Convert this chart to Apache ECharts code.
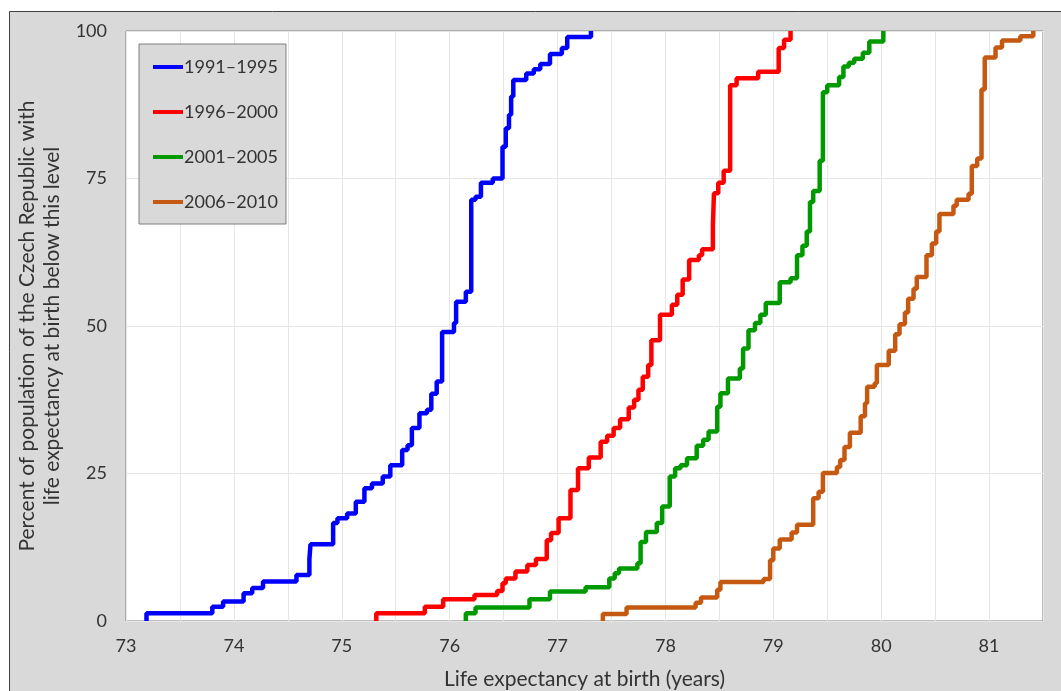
<!DOCTYPE html>
<html><head><meta charset="utf-8">
<script src="https://cdn.jsdelivr.net/npm/echarts@6/dist/echarts.min.js"></script>
<style>html,body{margin:0;padding:0;background:#fff}#c{width:1061px;height:691px}</style>
</head><body><div id="c"></div>
<script>
const seriesNames = ['1991\u20131995', '1996\u20132000', '2001\u20132005', '2006\u20132010'];
const xTicks = ['73','74','75','76','77','78','79','80','81'];
const yTicks = ['0','25','50','75','100'];

const s1991 = [[73.19,0],[73.19,1.3],[73.80,2.4],[73.90,3.3],[74.09,4.7],[74.17,5.6],[74.27,6.7],[74.58,7.8],[74.70,10.5],[74.71,13.0],[74.92,16.6],[74.96,17.4],[75.05,18.2],[75.13,20.2],[75.21,22.5],[75.28,23.3],[75.38,24.5],[75.45,26.4],[75.56,29.0],[75.61,29.8],[75.65,32.7],[75.72,35.2],[75.79,35.8],[75.83,38.5],[75.88,40.6],[75.93,49.0],[76.04,50.5],[76.06,54.1],[76.15,55.8],[76.20,71.4],[76.24,71.9],[76.29,74.3],[76.40,75.0],[76.49,80.4],[76.52,83.5],[76.55,85.8],[76.57,88.9],[76.59,91.7],[76.71,92.8],[76.78,93.5],[76.84,94.4],[76.93,96.1],[77.04,97.1],[77.09,99.0],[77.31,100]];
const s1996 = [[75.32,0],[75.32,1.3],[75.77,2.4],[75.94,3.7],[76.23,4.4],[76.44,5.1],[76.49,6.4],[76.52,7.2],[76.61,8.4],[76.72,9.5],[76.80,10.5],[76.90,13.7],[76.94,14.9],[77.01,17.4],[77.12,22.2],[77.19,25.9],[77.29,27.7],[77.40,30.4],[77.46,31.4],[77.52,32.7],[77.58,34.2],[77.66,36.2],[77.71,37.5],[77.75,39.2],[77.79,41.4],[77.84,43.4],[77.87,47.6],[77.95,51.9],[78.06,53.6],[78.11,55.3],[78.16,57.9],[78.22,61.2],[78.31,62.0],[78.34,63.0],[78.44,67.0],[78.45,72.5],[78.49,74.3],[78.54,76.3],[78.60,90.8],[78.66,92.0],[78.86,93.1],[79.05,97.1],[79.10,98.5],[79.16,100]];
const s2001 = [[76.15,0],[76.15,1.3],[76.24,2.3],[76.74,3.7],[76.93,5.0],[77.26,5.7],[77.48,7.2],[77.53,8.1],[77.57,8.9],[77.74,9.8],[77.77,13.4],[77.82,15.1],[77.92,16.6],[77.97,19.4],[78.04,24.5],[78.09,25.9],[78.14,26.4],[78.20,27.6],[78.29,29.7],[78.35,30.7],[78.40,32.1],[78.48,36.3],[78.51,38.6],[78.58,41.1],[78.69,42.8],[78.72,46.2],[78.77,49.3],[78.83,50.5],[78.88,51.9],[78.93,53.9],[79.06,57.4],[79.16,58.1],[79.22,62.0],[79.27,63.6],[79.31,66.0],[79.34,71.0],[79.37,72.9],[79.43,78.0],[79.46,89.6],[79.50,90.8],[79.61,92.2],[79.65,94.0],[79.70,94.6],[79.75,95.3],[79.83,96.3],[79.89,98.2],[80.02,100]];
const s2006 = [[77.42,0],[77.42,1.2],[77.64,2.3],[78.28,3.1],[78.33,4.0],[78.48,5.3],[78.51,6.6],[78.91,7.1],[78.97,10.3],[79.00,12.3],[79.06,13.8],[79.17,15.0],[79.22,16.3],[79.37,20.8],[79.42,21.9],[79.46,25.1],[79.59,26.1],[79.62,27.3],[79.66,29.5],[79.71,31.9],[79.81,34.7],[79.85,36.9],[79.87,39.7],[79.94,40.3],[79.96,43.4],[80.07,45.8],[80.13,48.6],[80.17,50.3],[80.22,52.3],[80.25,54.6],[80.30,56.3],[80.33,58.3],[80.42,62.0],[80.47,64.0],[80.51,66.0],[80.54,69.0],[80.67,70.4],[80.70,71.4],[80.81,72.4],[80.84,77.1],[80.89,78.4],[80.93,90.1],[80.96,95.5],[81.06,97.2],[81.12,98.4],[81.29,99.1],[81.41,100]];

const seriesData = [s1991, s1996, s2001, s2006];
const colors = ['#0000ff', '#ff0000', '#009a00', '#c65911'];
const FONT = 'Lato, "Open Sans", sans-serif';
const TXT = '#333333';

const chart = echarts.init(document.getElementById('c'), null, {renderer: 'canvas'});
chart.setOption({
  animation: false,
  backgroundColor: '#ffffff',
  graphic: [{
    type: 'rect', z: -10, silent: true,
    shape: {x: 9.5, y: 11.5, width: 1100, height: 700},
    style: {fill: '#d9d9d9', stroke: '#404040', lineWidth: 1}
  }],
  grid: {left: 126, top: 31, width: 917, height: 590, show: true, backgroundColor: '#ffffff', borderColor: '#7f7f7f', borderWidth: 1, containLabel: false, outerBoundsMode: 'none'},
  legend: {
    orient: 'vertical', left: 139, top: 44,
    backgroundColor: '#d9d9d9', borderColor: '#7f7f7f', borderWidth: 1,
    padding: [12, 8, 11, 14], itemGap: 23, itemWidth: 30, itemHeight: 4,
    textStyle: {fontFamily: FONT, fontSize: 18, lineHeight: 22, color: TXT, padding: [0,0,0,-4]},
    data: seriesNames.map(n => ({name: n, icon: 'rect'}))
  },
  xAxis: {
    type: 'value', min: 73, max: 81.5, interval: 0.5,
    axisLine: {show: false}, axisTick: {show: false},
    splitLine: {show: true, lineStyle: {color: '#e6e6e6', width: 1}},
    axisLabel: {
      fontFamily: FONT, fontSize: 18, color: TXT, margin: 16, showMaxLabel: false,
      formatter: v => { const s = String(v); return xTicks.includes(s) ? s : ''; }
    },
    name: 'Life expectancy at birth (years)', nameLocation: 'middle', nameGap: 48,
    nameTextStyle: {fontFamily: FONT, fontSize: 21, color: TXT}
  },
  yAxis: {
    type: 'value', min: 0, max: 100, interval: 25,
    axisLine: {show: false}, axisTick: {show: false},
    splitLine: {show: true, lineStyle: {color: '#e6e6e6', width: 1}},
    axisLabel: {fontFamily: FONT, fontSize: 18, color: TXT, margin: 19,
      formatter: v => yTicks.includes(String(v)) ? String(v) : ''},
    name: 'Percent of population of the Czech Republic with\nlife expectancy at birth below this level',
    nameLocation: 'middle', nameGap: 51,
    nameTextStyle: {fontFamily: FONT, fontSize: 21, color: TXT, lineHeight: 25}
  },
  series: seriesNames.map((n, i) => ({
    name: n, type: 'line', step: 'end', data: seriesData[i],
    showSymbol: false, symbol: 'none', color: colors[i],
    lineStyle: {color: colors[i], width: 4.5}, itemStyle: {color: colors[i]}
  }))
});
</script></body></html>
